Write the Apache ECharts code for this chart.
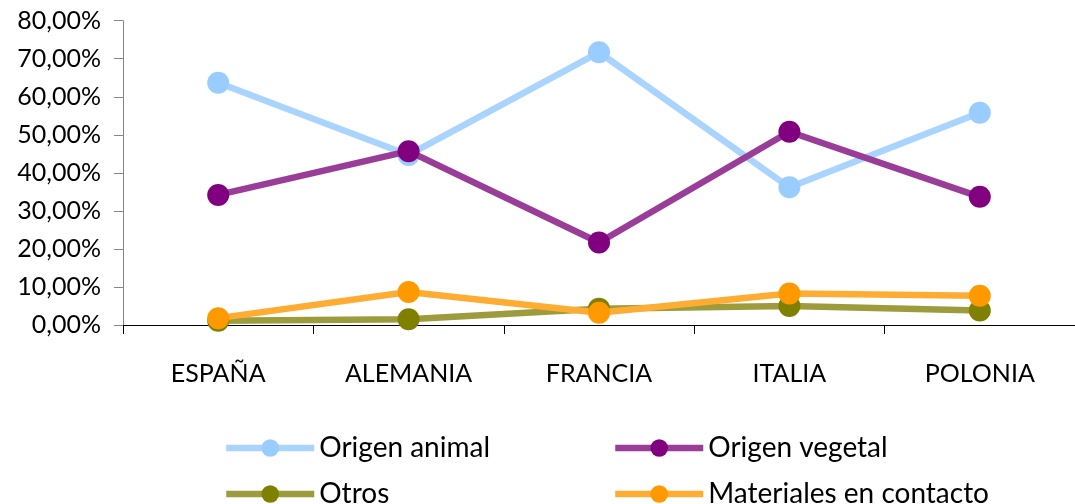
<!DOCTYPE html>
<html>
<head>
<meta charset="utf-8">
<script src="https://cdn.jsdelivr.net/npm/echarts@6/dist/echarts.min.js"></script>
<style>
html,body{margin:0;padding:0;background:#fff;}
#chart{width:1075px;height:504px;}
</style>
</head>
<body>
<div id="chart"></div>
<script>
var categories = ['ESPAÑA', 'ALEMANIA', 'FRANCIA', 'ITALIA', 'POLONIA'];
var origenAnimal = [63.7, 44.7, 71.7, 36.2, 55.8];
var origenVegetal = [34.2, 45.7, 21.7, 50.8, 33.7];
var otros = [1.1, 1.5, 4.3, 5.0, 3.8];
var materiales = [1.8, 8.7, 3.2, 8.3, 7.7];
var seriesNames = ['Origen animal', 'Origen vegetal', 'Otros', 'Materiales en contacto'];
var markerColors = ['#99CCFF', '#800080', '#808000', '#FF9900'];
var lineColors = ['#A9D4FF', '#993D99', '#9C9C3C', '#FFAC33'];
var values = [origenAnimal, origenVegetal, otros, materiales];

var FONT = 'Lato';
var chart = echarts.init(document.getElementById('chart'), null, {renderer: 'canvas'});

var series = seriesNames.map(function (n, i) {
  return {
    name: n,
    type: 'line',
    data: values[i],
    symbol: 'circle',
    symbolSize: 22,
    showAllSymbol: true,
    itemStyle: {color: markerColors[i], opacity: 1},
    lineStyle: {color: lineColors[i], width: 6.5},
    emphasis: {disabled: true},
    z: 2 + i
  };
});

var legendText = {fontFamily: FONT, fontSize: 28, color: '#000', lineHeight: 28};

function makeLegend(names, left) {
  return {
    data: names,
    orient: 'vertical', left: left, top: 434, height: 100, padding: 0,
    itemWidth: 88, itemHeight: 22, itemGap: 18,
    lineStyle: {width: 6.5},
    textStyle: legendText, selectedMode: false
  };
}

chart.setOption({
  animation: false,
  backgroundColor: '#fff',
  grid: {left: 123, top: 20.7, width: 962, height: 304.3, containLabel: false},
  legend: [
    makeLegend([seriesNames[0], seriesNames[2]], 223),
    makeLegend([seriesNames[1], seriesNames[3]], 612)
  ],
  xAxis: {
    type: 'category',
    data: categories,
    boundaryGap: true,
    axisLine: {lineStyle: {color: '#000', width: 1}},
    axisTick: {show: true, length: 9, inside: false, alignWithLabel: false, lineStyle: {color: '#000'}},
    axisLabel: {fontFamily: FONT, fontSize: 25, color: '#000', margin: 36, interval: 0},
    splitLine: {show: false}
  },
  yAxis: {
    type: 'value',
    min: 0, max: 80, interval: 10,
    axisLine: {show: true, lineStyle: {color: '#868686', width: 1}},
    axisTick: {show: true, length: 9, lineStyle: {color: '#868686'}},
    axisLabel: {
      fontFamily: FONT, fontSize: 25, color: '#000', margin: 22,
      formatter: function (v) { return v.toFixed(2).replace('.', ',') + '%'; }
    },
    splitLine: {show: false}
  },
  series: series
});
</script>
</body>
</html>
